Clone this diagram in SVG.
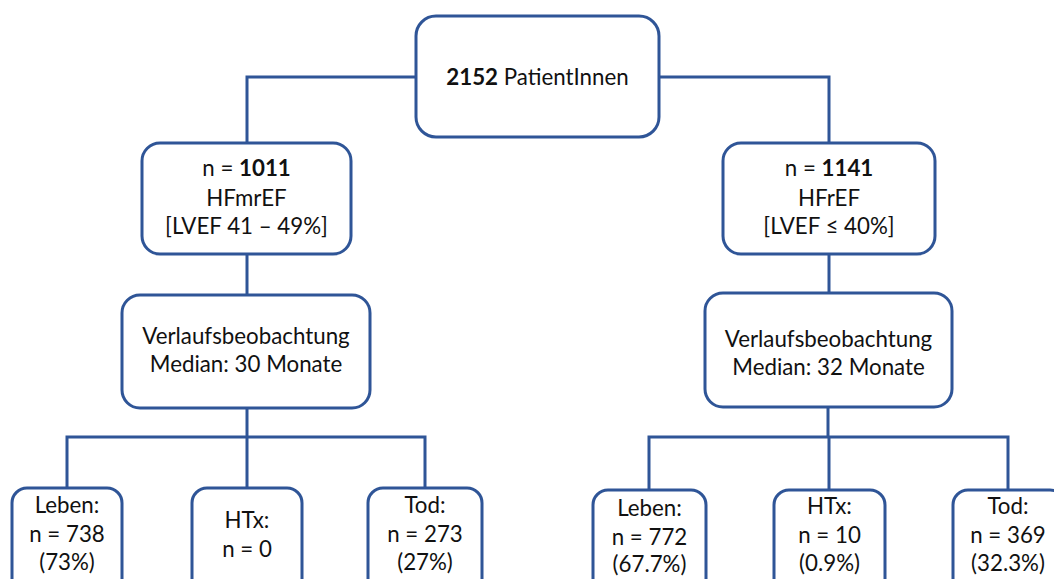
<svg xmlns="http://www.w3.org/2000/svg" width="1054" height="579" viewBox="0 0 1054 579">
<style>
.box{fill:#fff;stroke:#2F5597;stroke-width:3}
.con{fill:none;stroke:#2F5597;stroke-width:3}
text{font-family:Lato,"Open Sans","Liberation Sans",sans-serif;font-size:22.3px;fill:#111;text-anchor:middle}
.b{font-weight:bold}
</style>
<rect width="1054" height="579" fill="#fff"/>
<g id="connectors">
<path class="con" d="M416,77 H247 V143"/>
<path class="con" d="M659,77 H829 V143"/>
<path class="con" d="M247,254 V295"/>
<path class="con" d="M829,254 V293"/>
<path class="con" d="M247,408 V437"/>
<path class="con" d="M67,488 V437 H425 V488 M247,437 V488"/>
<path class="con" d="M828,407 V437"/>
<path class="con" d="M649,490 V437 H1008 V490 M829,437 V490"/>
</g>
<g id="root">
<rect class="box" x="416" y="16" width="243" height="121" rx="20"/>
<text x="537.5" y="85"><tspan class="b">2152</tspan> PatientInnen</text>
</g>
<g id="hfmref">
<rect class="box" x="142" y="143" width="209" height="111" rx="18"/>
<text x="246.5" y="176">n = <tspan class="b">1011</tspan></text>
<text x="246.5" y="206">HFmrEF</text>
<text x="246.5" y="234">[LVEF 41 – 49%]</text>
</g>
<g id="hfref">
<rect class="box" x="723" y="143" width="212" height="111" rx="18"/>
<text x="829" y="176">n = <tspan class="b">1141</tspan></text>
<text x="829" y="206">HFrEF</text>
<text x="829" y="234">[LVEF ≤ 40%]</text>
</g>
<g id="follow-left">
<rect class="box" x="122" y="295" width="248" height="113" rx="18"/>
<text x="246" y="344">Verlaufsbeobachtung</text>
<text x="246" y="372">Median: 30 Monate</text>
</g>
<g id="follow-right">
<rect class="box" x="705" y="293" width="247" height="114" rx="18"/>
<text x="828.5" y="347">Verlaufsbeobachtung</text>
<text x="828.5" y="375">Median: 32 Monate</text>
</g>
<g id="leben-left">
<rect class="box" x="12" y="488" width="110" height="110" rx="15"/>
<text x="67" y="513">Leben:</text>
<text x="67" y="542">n = 738</text>
<text x="67" y="570">(73%)</text>
</g>
<g id="htx-left">
<rect class="box" x="192" y="488" width="110" height="110" rx="15"/>
<text x="247" y="528">HTx:</text>
<text x="247" y="557">n = 0</text>
</g>
<g id="tod-left">
<rect class="box" x="368" y="488" width="114" height="110" rx="15"/>
<text x="425" y="513">Tod:</text>
<text x="425" y="542">n = 273</text>
<text x="425" y="570">(27%)</text>
</g>
<g id="leben-right">
<rect class="box" x="593" y="490" width="113" height="110" rx="15"/>
<text x="649.5" y="516">Leben:</text>
<text x="649.5" y="545">n = 772</text>
<text x="649.5" y="572">(67.7%)</text>
</g>
<g id="htx-right">
<rect class="box" x="774" y="490" width="111" height="110" rx="15"/>
<text x="829.5" y="514">HTx:</text>
<text x="829.5" y="543">n = 10</text>
<text x="829.5" y="571">(0.9%)</text>
</g>
<g id="tod-right">
<rect class="box" x="953" y="490" width="112" height="110" rx="15"/>
<text x="1008" y="514">Tod:</text>
<text x="1008" y="543">n = 369</text>
<text x="1008" y="571">(32.3%)</text>
</g>
</svg>
